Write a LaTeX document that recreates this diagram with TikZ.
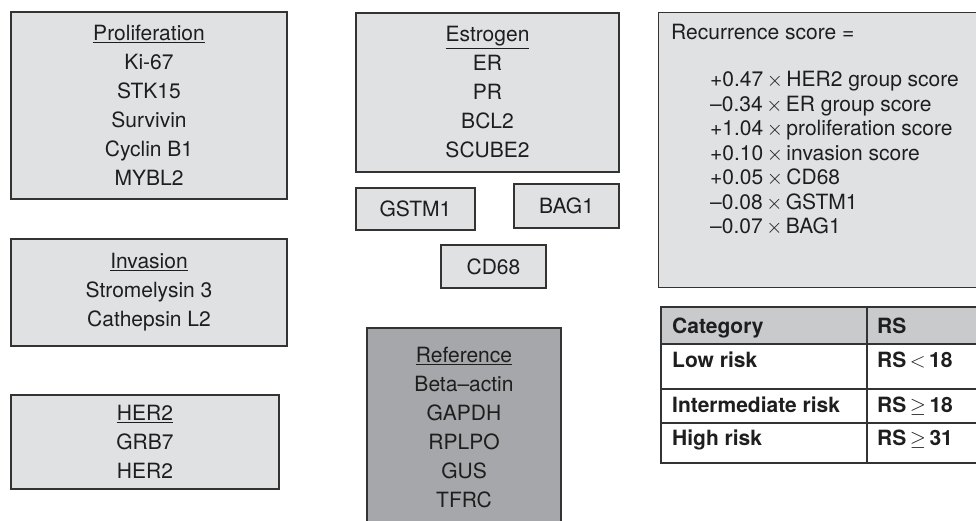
\documentclass[tikz,border=0pt]{standalone}
\usepackage{fontspec}
\setmainfont{TeX Gyre Heros}
\usetikzlibrary{positioning}
\definecolor{BoxFill}{HTML}{E0E1E3}
\definecolor{RefFill}{HTML}{A6A7AA}
\definecolor{HeadFill}{HTML}{C9CACC}
\definecolor{Edge}{HTML}{333333}
\definecolor{Ink}{HTML}{1E1E1E}
\tikzset{
  genebox/.style={draw=Edge,fill=BoxFill,line width=1.3pt,inner sep=0pt,align=center,text=Ink,font=\fontsize{21}{29}\selectfont},
  refbox/.style={genebox,fill=RefFill},
  termtext/.style={inner sep=0pt,text=Ink,align=left,font=\fontsize{21}{24.5}\selectfont},
  celltext/.style={inner sep=0pt,anchor=base west,text=Ink,font=\fontsize{21}{25}\selectfont\bfseries},
  tablerule/.style={draw=Edge,line width=1.3pt}
}
\begin{document}
\begin{tikzpicture}[x=1pt,y=-1pt]
  \fill[white] (0,0) rectangle (976,520);
  \clip (0,0) rectangle (976,520);
  % gene groups
  \node[genebox,minimum width=276,minimum height=187] (prolif) at (149,105.5)
    {\underline{Proliferation}\\Ki-67\\STK15\\Survivin\\Cyclin B1\\MYBL2};
  \node[genebox,minimum width=276,minimum height=107] (invasion) at (149,292.5)
    {\underline{Invasion}\\Stromelysin 3\\Cathepsin L2};
  \node[genebox,minimum width=268,minimum height=94] (her2) at (145,442)
    {\underline{HER2}\\GRB7\\HER2};
  \node[genebox,minimum width=263,minimum height=159] (estrogen) at (487.5,92.5)
    {\underline{Estrogen}\\ER\\PR\\BCL2\\SCUBE2};
  \node[genebox,minimum width=119,minimum height=42] (gstm1) at (415.5,209) {GSTM1};
  \node[genebox,minimum width=105,minimum height=44] (bag1) at (566.5,206) {BAG1};
  \node[genebox,minimum width=105,minimum height=43] (cd68) at (493.5,266.5) {CD68};
  \node[refbox,minimum width=194,minimum height=199] (reference) at (464,427.5)
    {\underline{Reference}\\Beta--actin\\GAPDH\\RPLPO\\GUS\\TFRC};
  % recurrence score
  \node[genebox,anchor=north west,minimum width=332,minimum height=275] (rscore) at (658,12) {};
  \node[termtext,anchor=base west] (rtitle) at (671,39) {Recurrence score =};
  \node[termtext,anchor=north west] (rterms) at (710,71)
    {+0.47\,$\times$\,HER2 group score\\
     --0.34\,$\times$\,ER group score\\
     +1.04\,$\times$\,proliferation score\\
     +0.10\,$\times$\,invasion score\\
     +0.05\,$\times$\,CD68\\
     --0.08\,$\times$\,GSTM1\\
     --0.07\,$\times$\,BAG1};
  % risk table
  \fill[HeadFill] (661,307) rectangle (990,344);
  \draw[tablerule] (661,307) rectangle (990,463);
  \draw[tablerule] (661,344) -- (990,344);
  \draw[tablerule] (661,389) -- (990,389);
  \draw[tablerule] (661,423) -- (990,423);
  \draw[tablerule] (867,307) -- (867,463);
  \node[celltext] (cathead) at (672,333) {Category};
  \node[celltext] (rshead) at (877,333) {RS};
  \node[celltext] (low) at (672,367) {Low risk};
  \node[celltext] (lowrs) at (877,367) {RS\,$<$\,18};
  \node[celltext] (mid) at (672,412) {Intermediate risk};
  \node[celltext] (midrs) at (877,412) {RS\,$\geq$\,18};
  \node[celltext] (high) at (672,445) {High risk};
  \node[celltext] (highrs) at (877,445) {RS\,$\geq$\,31};
\end{tikzpicture}
\end{document}
